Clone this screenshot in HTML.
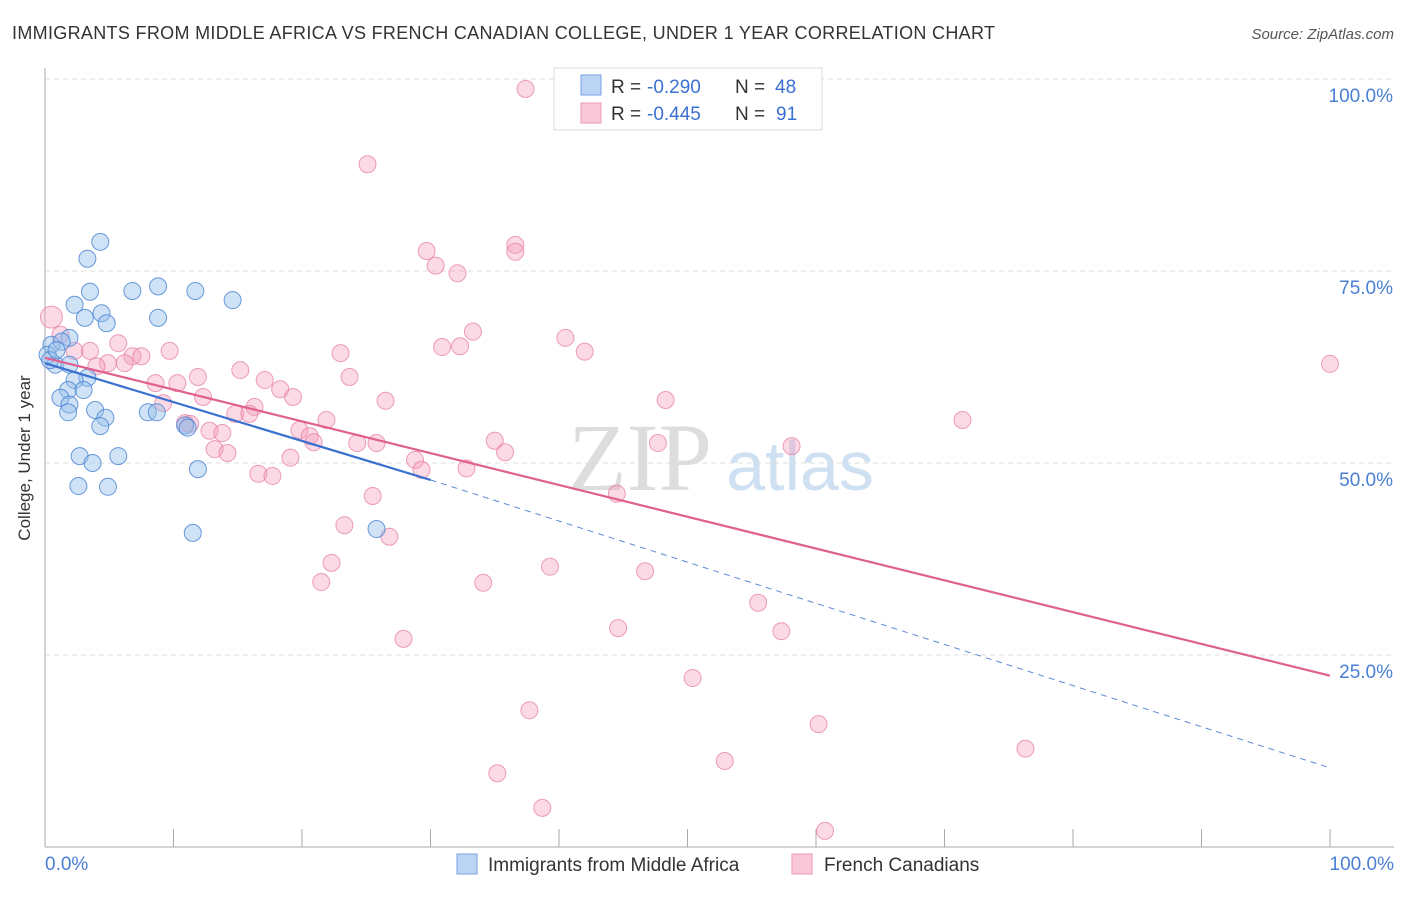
<!DOCTYPE html>
<html><head><meta charset="utf-8"><style>
body{margin:0;background:#fff;font-family:"Liberation Sans",sans-serif}
</style></head><body>
<svg width="1406" height="892" xmlns="http://www.w3.org/2000/svg">
<text x="12" y="39" font-size="18" fill="#333" letter-spacing="0.32">IMMIGRANTS FROM MIDDLE AFRICA VS FRENCH CANADIAN COLLEGE, UNDER 1 YEAR CORRELATION CHART</text>
<text x="1394" y="39" font-size="15" fill="#555" text-anchor="end" font-style="italic">Source: ZipAtlas.com</text>
<text x="640" y="490" font-size="96" fill="#ddd" font-family="Liberation Serif" text-anchor="middle">ZIP</text>
<text x="800" y="490" font-size="70" fill="#cfe0f3" text-anchor="middle">atlas</text>
<g id="grid"></g><g id="axes"></g><g id="pts"></g><g id="lines"></g>
<text x="30" y="458" font-size="17" fill="#333" transform="rotate(-90 30 458)" text-anchor="middle">College, Under 1 year</text>
<text x="45" y="870" font-size="19" fill="#4a7fd4">0.0%</text>
<text x="1394" y="870" font-size="19" fill="#4a7fd4" text-anchor="end">100.0%</text>
<g>
<rect x="554" y="68" width="268" height="62" fill="#fff" stroke="#ddd"/>
<rect x="581" y="75" width="20" height="20" fill="#bcd4f3" stroke="#7aa3e0"/>
<rect x="581" y="103" width="20" height="20" fill="#f9c8d8" stroke="#ec9ab5"/>
<text x="611" y="93" font-size="19" fill="#333">R =</text>
<text x="647" y="93" font-size="19" fill="#3a70d0">-0.290</text>
<text x="735" y="93" font-size="19" fill="#333">N =</text>
<text x="775" y="93" font-size="19" fill="#3a70d0">48</text>
<text x="611" y="120" font-size="19" fill="#333">R =</text>
<text x="647" y="120" font-size="19" fill="#3a70d0">-0.445</text>
<text x="735" y="120" font-size="19" fill="#333">N =</text>
<text x="776" y="120" font-size="19" fill="#3a70d0">91</text>
</g>
<g>
<rect x="457" y="854" width="20" height="20" fill="#bcd4f3" stroke="#7aa3e0"/>
<text x="488" y="871" font-size="19" fill="#333">Immigrants from Middle Africa</text>
<rect x="792" y="854" width="20" height="20" fill="#f9c8d8" stroke="#ec9ab5"/>
<text x="824" y="871" font-size="19" fill="#333">French Canadians</text>
</g>
</svg>
<script>
const yTicks=[25,50,75,100];
const yTickLabels=["25.0%","50.0%","75.0%","100.0%"];
const blueX=[4.3,3.3,6.8,8.8,11.7,14.6,3.5,2.3,3.1,4.4,4.8,8.8,1.9,0.5,1.3,0.2,0.8,1.9,3.3,2.3,1.8,3.0,1.2,1.9,1.8,3.9,4.7,4.3,8.0,8.7,10.9,11.1,2.7,3.7,5.7,11.9,2.6,4.9,11.5,25.8,0.4,0.9];
const blueY=[78.8,76.6,72.4,73.0,72.4,71.2,72.3,70.6,68.9,69.5,68.2,68.9,66.3,65.4,65.8,64.1,62.8,62.8,61.1,60.8,59.5,59.5,58.5,57.6,56.6,56.9,55.9,54.8,56.6,56.6,54.9,54.6,50.9,50.0,50.9,49.2,47.0,46.9,40.9,41.4,63.4,64.7];
const pinkX=[37.4,25.1,29.7,36.6,36.6,30.4,32.1,0.5,1.2,33.3,30.9,32.3,40.5,42.0,23.0,100,2.3,3.5,5.7,6.8,7.5,9.7,4.9,6.2,4.0,15.2,23.7,11.9,10.3,8.6,17.1,18.3,19.3,12.3,26.5,48.3,9.2,16.3,14.8,15.9,21.9,71.4,10.9,11.3,12.8,13.8,19.8,20.6,20.9,24.3,25.8,35.0,35.8,47.7,58.1,13.2,14.2,19.1,28.8,29.3,32.8,16.6,17.7,25.5,44.5,23.3,26.8,22.3,39.3,46.7,21.5,34.1,55.5,27.9,44.6,57.3,50.4,37.7,60.2,52.9,76.3,35.2,38.7,60.7];
const pinkY=[98.7,88.9,77.6,78.4,77.5,75.7,74.7,69.0,66.7,67.1,65.1,65.2,66.3,64.5,64.3,62.9,64.6,64.6,65.6,63.9,63.9,64.6,63.0,63.0,62.6,62.1,61.2,61.2,60.4,60.4,60.8,59.6,58.6,58.6,58.1,58.2,57.8,57.3,56.4,56.4,55.6,55.6,55.2,55.1,54.2,53.9,54.3,53.5,52.7,52.6,52.6,52.9,51.4,52.6,52.2,51.8,51.3,50.7,50.4,49.1,49.3,48.6,48.3,45.7,46.0,41.9,40.4,37.0,36.5,35.9,34.5,34.4,31.8,27.1,28.5,28.1,22.0,17.8,16.0,11.2,12.8,9.6,5.1,2.1];
const blueTrend=[[0,63.0],[30,47.8],[100,10.3]];
const pinkTrend=[[0,63.7],[100,22.3]];
const NS="http://www.w3.org/2000/svg";
const xs=v=>45+v*12.85, ys=v=>847-v*7.68;
function mk(t,a,p){const e=document.createElementNS(NS,t);for(const k in a)e.setAttribute(k,a[k]);p.appendChild(e);return e;}
const g=document.getElementById('grid'),ax=document.getElementById('axes'),pts=document.getElementById('pts'),ln=document.getElementById('lines');
yTicks.forEach((t,i)=>{
 const l=mk('line',{x1:45,x2:1394,y1:ys(t),y2:ys(t),stroke:'#ddd','stroke-dasharray':'5,4'},g);
 
 
 const tx=mk('text',{x:1393,y:ys(t)+23,'font-size':19,fill:'#4a7fd4','text-anchor':'end'},g);
 tx.textContent=yTickLabels[i];
 
 
});
const ya=mk('line',{x1:45,x2:45,y1:68,y2:847,stroke:'#aaa'},ax);


const xa=mk('line',{x1:45,x2:1394,y1:847,y2:847,stroke:'#aaa'},ax);


for(let i=1;i<=10;i++){
 const t=mk('line',{x1:xs(i*10),x2:xs(i*10),y1:847,y2:829,stroke:'#aaa'},ax);
 
 
}
pinkX.forEach((x,i)=>{
 const c=mk('circle',{cx:xs(x),cy:ys(pinkY[i]),r:i==7?11:8.5,fill:'rgba(244,160,190,0.4)',stroke:'rgba(230,120,160,0.7)','stroke-width':1},pts);
 
 
});
blueX.forEach((x,i)=>{
 const c=mk('circle',{cx:xs(x),cy:ys(blueY[i]),r:8.5,fill:'rgba(150,190,235,0.45)',stroke:'rgba(70,130,210,0.8)','stroke-width':1},pts);
 
 
});
const pl=mk('line',{x1:xs(pinkTrend[0][0]),y1:ys(pinkTrend[0][1]),x2:xs(pinkTrend[1][0]),y2:ys(pinkTrend[1][1]),stroke:'#e06090','stroke-width':2.2},ln);


const bl=mk('line',{x1:xs(blueTrend[0][0]),y1:ys(blueTrend[0][1]),x2:xs(blueTrend[1][0]),y2:ys(blueTrend[1][1]),stroke:'#3a70d0','stroke-width':2.2},ln);


const bd=mk('line',{x1:xs(blueTrend[1][0]),y1:ys(blueTrend[1][1]),x2:xs(blueTrend[2][0]),y2:ys(blueTrend[2][1]),stroke:'#5a88d8','stroke-width':1,'stroke-dasharray':'6,5'},ln);


</script>
</body></html>
